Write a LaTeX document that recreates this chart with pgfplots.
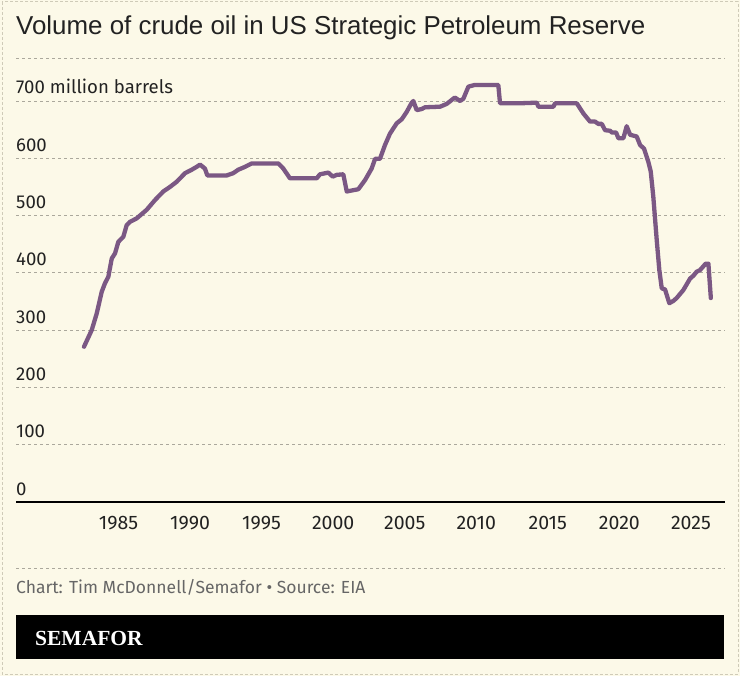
\documentclass[border=0pt]{standalone}
\usepackage{fontspec}
\setmainfont{Fira Sans}
\newfontfamily\titlefont{Liberation Sans}
\newfontfamily\brandfont{Liberation Serif}
\usepackage{pgfplots}
\pgfplotsset{compat=1.18}

\definecolor{bg}{HTML}{FCF9E8}
\definecolor{oil}{HTML}{7B5884}
\definecolor{gridc}{HTML}{ABA89C}
\definecolor{framec}{HTML}{CFCBB8}
\definecolor{note}{HTML}{666666}
\definecolor{ink}{HTML}{222222}

\begin{document}
\begin{tikzpicture}[x=1pt,y=1pt]
% canvas and frame
\fill[bg] (0,0) rectangle (740,-676);
\useasboundingbox (0,0) rectangle (740,-676);
\draw[framec, line width=1pt, dash pattern=on 3pt off 2pt] (2,-2) rectangle (738,-674);

% title
\node[anchor=base west, inner sep=0pt, text=ink,
      font=\titlefont\fontsize{25.9}{30}\selectfont] at (16,-35)
      {Volume of crude oil in US Strategic Petroleum Reserve};
\draw[gridc, line width=0.8pt, dash pattern=on 3pt off 3pt] (16,-58) -- (725,-58);

\begin{axis}[
  at={(16pt,-502pt)}, anchor=south west,
  scale only axis, width=709pt, height=401.03pt,
  xmin=1977.84, xmax=2027.38, ymin=0, ymax=700,
  axis x line*=bottom, axis y line*=left,
  y axis line style={draw=none},
  x axis line style={line width=1.2pt, black},
  ymajorgrids,
  grid style={gridc, line width=0.8pt, dash pattern=on 3pt off 3pt},
  major tick length=0pt, tick style={draw=none},
  ytick={0,100,200,300,400,500,600,700},
  yticklabels={0,100,200,300,400,500,600,700 million barrels},
  yticklabel style={anchor=base west, inner sep=0pt, yshift=7pt,
                    font=\fontsize{18.6}{20}\selectfont, text=ink},
  xtick={1985,1990,1995,2000,2005,2010,2015,2020,2025},
  xticklabels={1985,1990,1995,2000,2005,2010,2015,2020,2025},
  xticklabel style={anchor=north, inner sep=0pt, yshift=-14pt,
                    font=\fontsize{19.5}{21}\selectfont, text=ink},
  clip=false,
]
\addplot[oil, line width=4.3pt, line join=round, line cap=round] table {
1982.59 271
1983.13 300
1983.48 329
1983.83 367
1984.06 382
1984.29 393
1984.53 425
1984.76 434
1984.99 454
1985.34 463
1985.57 483
1985.80 489
1986.27 495
1986.97 510
1987.55 527
1988.13 542
1988.60 550
1989.07 559
1989.65 574
1990.12 580
1990.46 585
1990.70 589
1991.04 582
1991.21 570
1992.56 570
1993.02 574
1993.37 580
1993.84 585
1994.31 591
1996.17 591
1996.52 582
1996.98 565
1998.85 565
1999.08 572
1999.66 575
1999.97 568
2000.25 571
2000.71 572
2000.95 542
2001.76 546
2002.23 562
2002.69 582
2002.93 599
2003.27 599
2003.62 623
2003.97 643
2004.44 661
2004.79 668
2005.14 681
2005.49 697
2005.60 700
2005.84 684
2006.19 686
2006.42 689
2007.47 690
2007.94 695
2008.50 706
2008.87 700
2009.10 704
2009.45 725
2009.90 728
2011.54 728
2011.66 696
2013.06 696
2014.23 697
2014.34 690
2015.39 690
2015.51 696
2017.02 696
2017.49 678
2017.95 664
2018.30 664
2018.53 660
2018.77 660
2019.00 649
2019.35 648
2019.47 645
2019.77 645
2019.93 635
2020.28 635
2020.51 656
2020.75 641
2021.21 638
2021.45 623
2021.72 617
2022.02 594
2022.19 577
2022.37 533
2022.61 457
2022.79 405
2022.96 373
2023.19 371
2023.49 347
2023.77 351
2024.00 356
2024.47 370
2024.94 390
2025.17 395
2025.40 402
2025.64 405
2026.03 416
2026.22 416
2026.39 356
};
\end{axis}

% footer
\draw[gridc, line width=0.8pt, dash pattern=on 3pt off 3pt] (16,-568) -- (725,-568);
\node[anchor=base west, inner sep=0pt, text=note,
      font=\fontsize{17.5}{20}\selectfont] at (16,-594)
      {Chart: Tim McDonnell/Semafor • Source: EIA};
\fill[black] (16,-615) rectangle (724,-659);
\node[anchor=base west, inner sep=0pt, text=white,
      font=\brandfont\bfseries\fontsize{21.5}{24}\selectfont] at (35,-645) {SEMAFOR};
\end{tikzpicture}
\end{document}
